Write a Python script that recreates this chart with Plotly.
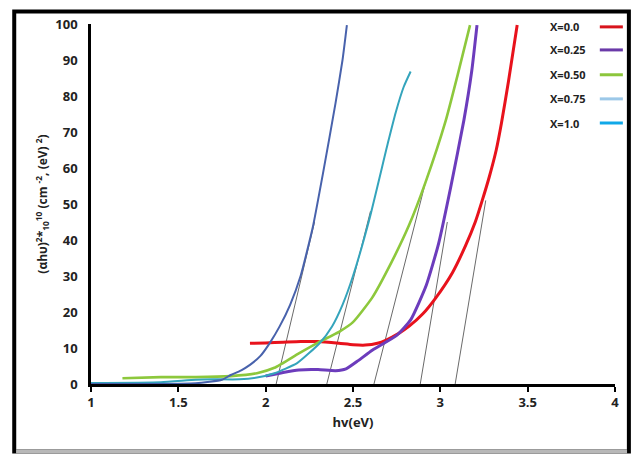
import plotly.graph_objects as go

# ---- data ----
series_names = ["X=0.0", "X=0.25", "X=0.50", "X=0.75", "X=1.0"]

x_00 = [1.91, 2.0, 2.1, 2.2, 2.3, 2.42, 2.50, 2.57, 2.64, 2.69, 2.76, 2.82, 2.90, 2.975, 3.07, 3.145, 3.20, 3.24, 3.28, 3.32, 3.35, 3.39, 3.44]
y_00 = [11.3, 11.4, 11.6, 11.8, 11.8, 11.3, 10.9, 10.8, 11.3, 12.2, 14.0, 16.0, 19.5, 24.0, 31.0, 38.5, 45.0, 51.0, 57.5, 65.0, 72.5, 84.0, 99.7]

x_25 = [2.0, 2.1, 2.19, 2.3, 2.40, 2.46, 2.53, 2.61, 2.75, 2.83, 2.92, 2.99, 3.06, 3.135, 3.18, 3.21]
y_25 = [2.2, 3.2, 3.9, 4.0, 3.7, 4.2, 6.5, 9.4, 13.5, 17.8, 27.5, 39.0, 54.8, 73.3, 87.0, 99.7]

x_50 = [1.18, 1.4, 1.6, 1.8, 1.95, 2.05, 2.19, 2.30, 2.42, 2.50, 2.61, 2.72, 2.82, 2.915, 3.03, 3.10, 3.17]
y_50 = [1.6, 1.9, 1.9, 2.2, 3.0, 4.5, 8.5, 11.5, 14.5, 17.2, 24.0, 33.8, 44.0, 56.0, 73.0, 86.0, 99.7]

x_75 = [1.0, 1.4, 1.6, 1.7, 1.85, 1.95, 2.05, 2.18, 2.31, 2.38, 2.44, 2.50, 2.595, 2.70, 2.745, 2.79, 2.83]
y_75 = [0.3, 0.5, 1.2, 1.3, 1.3, 1.8, 3.0, 5.8, 11.4, 16.0, 22.0, 30.0, 46.0, 67.0, 75.5, 82.5, 86.8]

x_10 = [1.0, 1.3, 1.6, 1.75, 1.80, 1.86, 1.91, 1.97, 2.025, 2.08, 2.14, 2.20, 2.27, 2.33, 2.40, 2.44, 2.465]
y_10 = [0.0, 0.0, 0.2, 1.2, 2.5, 3.8, 5.3, 7.8, 11.5, 16.0, 22.0, 30.0, 43.6, 59.0, 78.0, 90.0, 99.7]

# tangent (band-gap extrapolation) lines
tangent_x = [[3.085, 3.26], [2.885, 3.04], [2.62, 2.915], [2.35, 2.60], [2.06, 2.28]]
tangent_y = [[0, 51], [0, 45], [0, 56], [0, 48], [0, 45]]

x_ticks = [1, 1.5, 2, 2.5, 3, 3.5, 4]
y_ticks = [0, 10, 20, 30, 40, 50, 60, 70, 80, 90, 100]

# ---- styles ----
curve_colors = ["#e8121c", "#6c3cbc", "#8dc83c", "#34a4bc", "#4862ac"]
legend_colors = ["#d8141c", "#6a3aa8", "#8cc63c", "#9cc8e8", "#10a8e8"]
curve_widths = [3, 3, 2.6, 2, 2]

xs = [x_00, x_25, x_50, x_75, x_10]
ys = [y_00, y_25, y_50, y_75, y_10]

fig = go.Figure()

for tx, ty in zip(tangent_x, tangent_y):
    fig.add_trace(go.Scatter(x=tx, y=ty, mode="lines",
                             line=dict(color="#6a6a6a", width=1),
                             showlegend=False, hoverinfo="skip"))

for name, x, y, c, w in zip(series_names, xs, ys, curve_colors, curve_widths):
    fig.add_trace(go.Scatter(x=x, y=y, mode="lines", name=name,
                             line=dict(color=c, width=w, shape="spline", smoothing=0.5),
                             showlegend=False))

# custom legend (text followed by line sample, as in the reference)
font_family = "Open Sans, Liberation Sans, Arial, sans-serif"
row_y = [0.992, 0.928, 0.859, 0.792, 0.725]
for name, c, ry in zip(series_names, legend_colors, row_y):
    fig.add_annotation(xref="paper", yref="paper", x=0.872, y=ry, text=name,
                       showarrow=False, xanchor="left", yanchor="middle",
                       font=dict(family=font_family, size=11, color="#222", weight="bold"))
    fig.add_shape(type="line", xref="paper", yref="paper", x0=0.971, x1=1.015,
                  y0=ry, y1=ry, line=dict(color=c, width=3))

# outer frame (black left/top/right, light grey bottom)
fig.add_shape(type="rect", xref="paper", yref="paper", x0=-0.1465, x1=1.0265, y0=-0.1875, y1=1.035,
              line=dict(color="black", width=4), fillcolor="rgba(0,0,0,0)", layer="above")
fig.add_shape(type="line", xref="paper", yref="paper", x0=-0.143, x1=1.023, y0=-0.1875, y1=-0.1875,
              line=dict(color="#b8b8b8", width=4), layer="above")

fig.update_layout(
    width=635, height=454,
    margin=dict(l=91, r=20, t=24, b=70),
    paper_bgcolor="white", plot_bgcolor="white",
    font=dict(family=font_family, color="#222"),
    showlegend=False,
)
fig.update_xaxes(
    range=[1, 4], tickvals=x_ticks, ticktext=[str(v) for v in x_ticks],
    showgrid=False, zeroline=False, showline=True, linecolor="black", linewidth=2.5,
    ticks="outside", ticklen=5, tickwidth=2, tickcolor="black",
    tickfont=dict(size=13, weight="bold", color="#222"),
    title=dict(text="hv(eV)", font=dict(size=13, weight="bold", color="#222"), standoff=8),
    layer="below traces",
)
fig.update_yaxes(
    range=[0, 100], tickvals=y_ticks,
    showgrid=False, zeroline=False, showline=True, linecolor="black", linewidth=2.5,
    ticks="", ticklabelstandoff=8,
    tickfont=dict(size=13, weight="bold", color="#222"),
    title=dict(text="(αhυ)<sup>2</sup>*<sub>10</sub><sup>10</sup> (cm <sup>-2</sup>, (eV) <sup>2</sup>)",
               font=dict(size=12, weight="bold", color="#222"), standoff=6),
    layer="below traces",
)

fig.write_html("out.html", config={"displayModeBar": False},
               post_script="document.body.style.margin='0';document.body.style.padding='0';document.body.style.overflow='hidden';")
